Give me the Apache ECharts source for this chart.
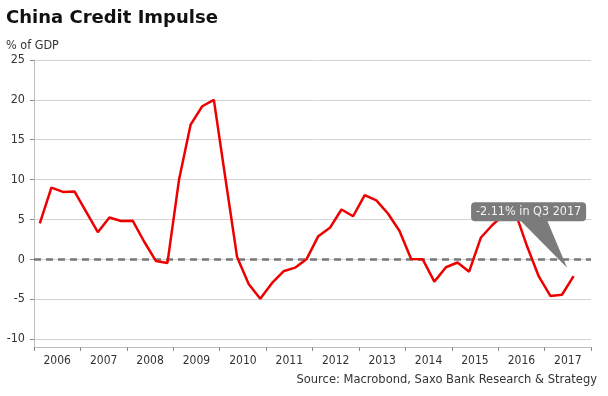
<!DOCTYPE html>
<html>
<head>
<meta charset="utf-8">
<script src="https://cdn.jsdelivr.net/npm/echarts@6/dist/echarts.min.js"></script>
<style>
html,body{margin:0;padding:0;background:#fff;}
#c{width:608px;height:396px;}
</style>
</head>
<body>
<div id="c"></div>
<script>
var years = ['2006','2007','2008','2009','2010','2011','2012','2013','2014','2015','2016','2017'];
var quarters = ['Q1','Q2','Q3','Q4'];
var yTicks = [-10,-5,0,5,10,15,20,25];
var impulse = [
  4.5, 9.0, 8.45, 8.5,
  5.95, 3.4, 5.25, 4.8,
  4.85, 2.2, -0.2, -0.45,
  10.0, 16.9, 19.2, 20.0,
  10.1, 0.3, -3.1, -4.95,
  -3.0, -1.5, -1.05, 0.05,
  2.9, 3.95, 6.25, 5.4,
  8.05, 7.4, 5.75, 3.55,
  0.05, 0.0, -2.8, -1.0,
  -0.4, -1.55, 2.7, 4.3,
  5.6, 5.8, 1.6, -2.15,
  -4.6, -4.45, -2.11
];
var FONT = "'DejaVu Sans Condensed','DejaVu Sans',sans-serif";

var quarterCats = [];
years.forEach(function(y){ quarters.forEach(function(q){ quarterCats.push(q + ' ' + y); }); });

var chart = echarts.init(document.getElementById('c'), null, {renderer:'canvas'});
var option = {
  animation:false,
  backgroundColor:'#ffffff',
  title:[
    {text:'China Credit Impulse', left:6, top:9, padding:0, textStyle:{fontFamily:"'DejaVu Sans',sans-serif", fontWeight:'bold', fontSize:18, color:'#111'}},
    {text:'% of GDP', left:6, top:39, padding:0, textStyle:{fontFamily:FONT, fontWeight:'normal', fontSize:12.5, color:'#333'}},
    {text:'Source: Macrobond, Saxo Bank Research & Strategy', right:11, top:373, padding:0, textStyle:{fontFamily:FONT, fontWeight:'normal', fontSize:12.8, color:'#333'}}
  ],
  grid:{left:34, right:17, top:60, bottom:49, containLabel:false},
  xAxis:[
    {type:'category', data:years, boundaryGap:true, position:'bottom',
     axisLine:{show:true, onZero:false, lineStyle:{color:'#bdbdbd', width:1}},
     axisTick:{show:true, length:4, lineStyle:{color:'#888'}},
     axisLabel:{fontFamily:FONT, fontSize:12, color:'#333', margin:8, interval:0},
     splitLine:{show:false}},
    {type:'category', data:quarterCats, boundaryGap:true, position:'bottom', show:false, axisLine:{onZero:false}}
  ],
  yAxis:{type:'value', min:-11, max:25, splitNumber:7,
    axisLine:{show:true, lineStyle:{color:'#bdbdbd', width:1}},
    axisTick:{show:true, length:4, lineStyle:{color:'#888'}},
    axisLabel:{fontFamily:FONT, fontSize:12.5, color:'#333', margin:9, showMinLabel:false,
      formatter:function(v){ return yTicks.indexOf(v) >= 0 ? String(v) : ''; }},
    splitLine:{show:true, lineStyle:{color:'#d4d4d4', width:1}}
  },
  series:[{
    type:'line', xAxisIndex:1, yAxisIndex:0, data:impulse, symbol:'none',
    lineStyle:{color:'#ee0000', width:2.5}, z:5,
    markLine:{silent:true, symbol:'none', label:{show:false},
      lineStyle:{color:'#777', type:[7,5], width:2.5}, z:3,
      data:[{yAxis:0}]}
  }]
};
chart.setOption(option);

var lastIdx = impulse.length - 1;
var lastVal = impulse[lastIdx];
var p = chart.convertToPixel({xAxisIndex:1, yAxisIndex:0}, [lastIdx, lastVal]);
var tipX = p[0] - 6.5, tipY = p[1] - 8.5;
var boxL = tipX - 96, boxR = tipX + 19, boxT = tipY - 65.5, boxB = tipY - 46.5;
chart.setOption({
  graphic:[
    {type:'polygon', z:100, shape:{points:[[tipX-47,boxB-1],[tipX-20,boxB-1],[tipX,tipY]]}, style:{fill:'#7b7b7b'}},
    {type:'rect', z:101, shape:{x:boxL, y:boxT, width:boxR-boxL, height:boxB-boxT, r:4}, style:{fill:'#7b7b7b'}},
    {type:'text', z:102, x:(boxL+boxR)/2, y:(boxT+boxB)/2, style:{
      text: lastVal.toFixed(2) + '% in ' + quarterCats[lastIdx],
      fill:'#f4f4f4', font:"12.5px " + FONT, align:'center', verticalAlign:'middle'}}
  ]
});
</script>
</body>
</html>
